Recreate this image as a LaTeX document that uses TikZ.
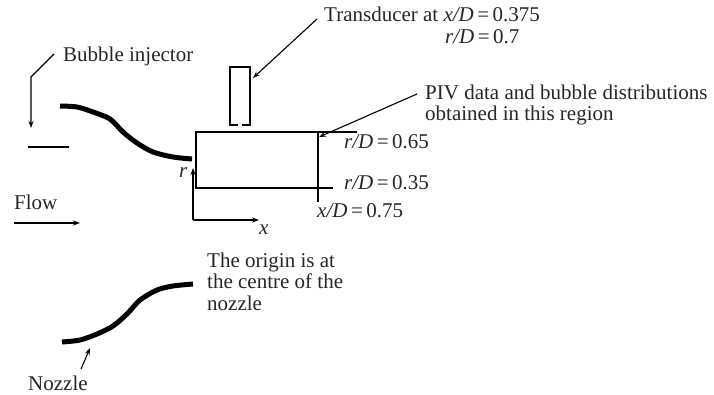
\documentclass[tikz,border=0pt]{standalone}
\usepackage{fontspec}
\setmainfont{Liberation Serif}
\usetikzlibrary{arrows.meta}

\newcommand{\ratio}[2]{\textit{#1/D}\,=\,#2}

\begin{document}
\begin{tikzpicture}[
  x=1pt, y=-1pt,
  >={Stealth[length=7pt, width=5pt]},
  every node/.style={font=\fontsize{21pt}{21.5pt}\selectfont, inner sep=0pt, text=black!85},
  lab/.style={anchor=base west},
  stack/.style={anchor=north west, align=left},
  arrow/.style={->, line width=1.1pt},
  thin line/.style={line width=1.1pt},
  nozzle/.style={line width=5pt, smooth}
]
\useasboundingbox (0,0) rectangle (714,395);

% Labels
\node[lab] (transducer) at (324,22) {Transducer at \ratio{x}{0.375}};
\node[lab] (transducertwo) at (445,44) {\ratio{r}{0.7}};
\node[stack] (piv) at (425,84.6) {PIV data and bubble distributions\\obtained in this region};
\node[lab] (injector) at (63,62) {Bubble injector};
\node[lab] (flow) at (14,210) {Flow};
\node[lab] (top) at (344,149) {\ratio{r}{0.65}};
\node[lab] (bottom) at (344,190) {\ratio{r}{0.35}};
\node[lab] (right) at (317,218) {\ratio{x}{0.75}};
\node[lab] (rlabel) at (179,178) {\textit{r}};
\node[lab] (xlabel) at (259,234) {\textit{x}};
\node[stack] (origin) at (207,252.7) {The origin is at\\the centre of the\\nozzle};
\node[lab] (nozzlelabel) at (28,390) {Nozzle};

% Nozzle walls
\draw[nozzle] plot coordinates {(60,106) (77,107) (93,112) (110,119) (123,132) (137,143) (153,152) (173,157) (192,159)};
\draw[nozzle] plot coordinates {(62,342) (80,340) (97,334) (113,326) (127,314) (140,300) (157,290) (173,286) (193,284)};

% Measurement region
\coordinate (nw) at (196,132);
\coordinate (sw) at (196,188);
\coordinate (ne) at (318,132);
\coordinate (netip) at (357,132);
\coordinate (setip) at (333,188);
\coordinate (drop) at (318,202);
\draw[thin line] (netip) -- (nw) -- (sw) -- (setip);
\draw[thin line] (ne) -- (drop);

% Transducer
\coordinate (tleft) at (238,125);
\coordinate (tright) at (242,125);
\draw[line width=1.8pt] (tleft) -- (230,125) -- (230,67) -- (250,67) -- (250,125) -- (tright);

% Axes
\coordinate (corner) at (193,220);
\coordinate (raxis) at (193,168);
\coordinate (xaxis) at (259,220);
\draw[arrow] (corner) -- (raxis);
\draw[arrow] (corner) -- (xaxis);

% Leaders
\coordinate (tstart) at (317,19);
\coordinate (tend) at (253,78);
\draw[arrow] (tstart) -- (tend);
\coordinate (pstart) at (417,94);
\coordinate (pend) at (319,137);
\draw[arrow] (pstart) -- (pend);
\coordinate (bstart) at (54,54);
\coordinate (bbend) at (31,77);
\coordinate (bend) at (31,128);
\draw[arrow] (bstart) -- (bbend) -- (bend);
\coordinate (ileft) at (28,147);
\coordinate (iright) at (69,147);
\draw[thin line] (ileft) -- (iright);
\coordinate (fstart) at (14,223);
\coordinate (fend) at (80,223);
\draw[arrow] (fstart) -- (fend);
\coordinate (nstart) at (81,369);
\coordinate (nend) at (90,348);
\draw[arrow] (nstart) -- (nend);

\end{tikzpicture}
\end{document}
